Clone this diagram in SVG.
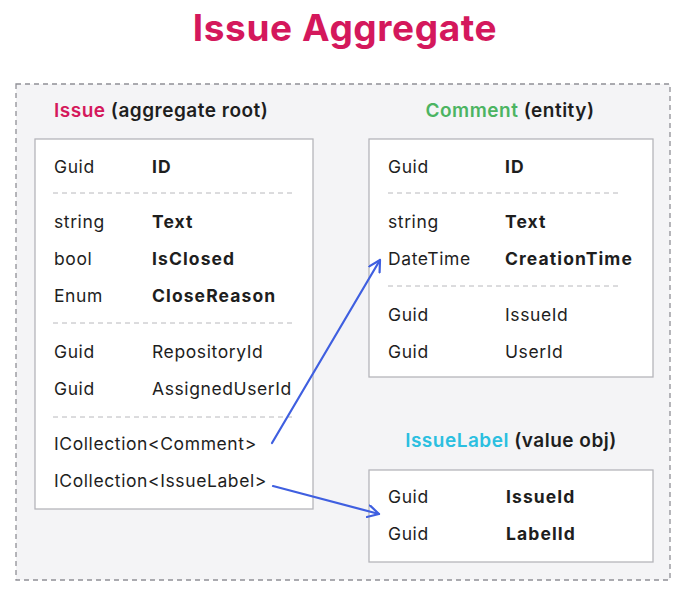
<svg xmlns="http://www.w3.org/2000/svg" width="688" height="598" viewBox="0 0 688 598">
<defs>
<style>
text{font-family:"Inter","Noto Sans","Liberation Sans",sans-serif;fill:#1e1e1e;font-size:17.5px;letter-spacing:0.6px}
.b{font-weight:700;letter-spacing:1.1px}
.h{font-size:19px;font-weight:600;letter-spacing:0.5px}
.title{font-size:37px;font-weight:700;fill:#d4185c;letter-spacing:0.6px}
.box{fill:#fff;stroke:#b5b5bb;stroke-width:1.3}
.sep{stroke:#b8b8bc;stroke-width:1;stroke-dasharray:5 4}
.conn{stroke:#3f5fe0;stroke-width:2.2;fill:none;stroke-linecap:round;stroke-linejoin:round}
</style>
<marker id="arr" viewBox="0 0 14 14" refX="12" refY="7" markerWidth="14" markerHeight="14" markerUnits="userSpaceOnUse" orient="auto">
<path d="M1,1 L12,7 L1,13" fill="none" stroke="#3f5fe0" stroke-width="2.2" stroke-linecap="round" stroke-linejoin="round"/>
</marker>
</defs>
<rect width="688" height="598" fill="#fff"/>
<text class="title" x="345" y="41" text-anchor="middle">Issue Aggregate</text>
<rect x="16" y="84" width="654" height="496" fill="#f4f4f6" stroke="#909096" stroke-width="1.3" stroke-dasharray="5 4"/>

<g id="issue">
<text class="h" x="54" y="117"><tspan fill="#d4185c">Issue</tspan> (aggregate root)</text>
<rect class="box" x="35" y="139" width="278" height="370"/>
<text x="54" y="173">Guid</text><text class="b" x="152" y="173">ID</text>
<line class="sep" x1="53" y1="193" x2="295" y2="193"/>
<text x="54" y="228">string</text><text class="b" x="152" y="228">Text</text>
<text x="54" y="265">bool</text><text class="b" x="152" y="265">IsClosed</text>
<text x="54" y="302">Enum</text><text class="b" x="152" y="302">CloseReason</text>
<line class="sep" x1="53" y1="323" x2="295" y2="323"/>
<text x="54" y="358">Guid</text><text x="152" y="358">RepositoryId</text>
<text x="54" y="395">Guid</text><text x="152" y="395">AssignedUserId</text>
<line class="sep" x1="53" y1="417" x2="295" y2="417"/>
<text x="54" y="450">ICollection&lt;Comment&gt;</text>
<text x="54" y="487">ICollection&lt;IssueLabel&gt;</text>
</g>

<g id="comment">
<text class="h" x="510" y="117" text-anchor="middle"><tspan fill="#4cb462">Comment</tspan> (entity)</text>
<rect class="box" x="369" y="139" width="284" height="238"/>
<text x="388" y="173">Guid</text><text class="b" x="505" y="173">ID</text>
<line class="sep" x1="388" y1="193" x2="620" y2="193"/>
<text x="388" y="228">string</text><text class="b" x="505" y="228">Text</text>
<text x="388" y="265">DateTime</text><text class="b" x="505" y="265">CreationTime</text>
<line class="sep" x1="388" y1="286" x2="620" y2="286"/>
<text x="388" y="321">Guid</text><text x="505" y="321">IssueId</text>
<text x="388" y="358">Guid</text><text x="505" y="358">UserId</text>
</g>

<g id="issuelabel">
<text class="h" x="511" y="447" text-anchor="middle"><tspan fill="#2bbfe0">IssueLabel</tspan> (value obj)</text>
<rect class="box" x="369" y="470" width="284" height="92"/>
<text x="388" y="503">Guid</text><text class="b" x="506" y="503">IssueId</text>
<text x="388" y="540">Guid</text><text class="b" x="506" y="540">LabelId</text>
</g>

<g id="connectors">
<path class="conn" d="M272,443 L380,260" marker-end="url(#arr)"/>
<path class="conn" d="M273,486 L379,514" marker-end="url(#arr)"/>
</g>
</svg>
